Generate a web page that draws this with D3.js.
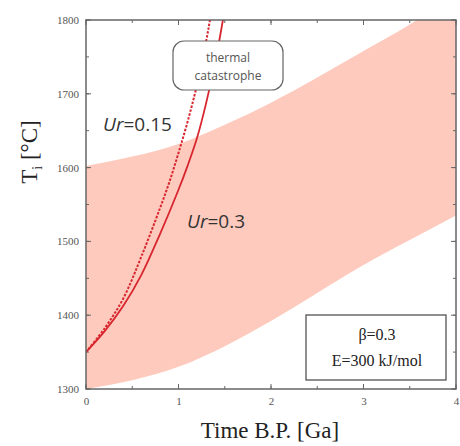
<!DOCTYPE html>
<html>
<head>
<meta charset="utf-8">
<script src="https://cdn.jsdelivr.net/npm/d3@7"></script>
<style>
  body { margin: 0; background: #fff; }
  svg { display: block; }
</style>
</head>
<body>
<script>
// band of allowed mantle temperatures
const bandTime = [0, 0.5, 1, 1.5, 2, 2.5, 3, 3.5, 4];
const bandLow  = [1300, 1312, 1330, 1358, 1392, 1430, 1468, 1502, 1535];
const bandHigh = [1602, 1615, 1632, 1658, 1688, 1722, 1758, 1794, 1835];

// Ur = 0.3 (solid)
const ur30Time = [0, 0.2, 0.4, 0.6, 0.8, 1.0, 1.1, 1.2, 1.3, 1.4, 1.48, 1.55];
const ur30Temp = [1350, 1378, 1412, 1455, 1510, 1570, 1603, 1640, 1688, 1745, 1800, 1855];

// Ur = 0.15 (dashed)
const ur15Time = [0, 0.2, 0.4, 0.6, 0.8, 0.9, 1.0, 1.1, 1.2, 1.3, 1.34, 1.4];
const ur15Temp = [1350, 1382, 1422, 1480, 1545, 1580, 1620, 1663, 1712, 1772, 1800, 1845];

const xTicks = [0, 1, 2, 3, 4];
const yTicks = [1300, 1400, 1500, 1600, 1700, 1800];

const margin = {top: 20, right: 4, bottom: 57, left: 86},
    W = 460, H = 446,
    width = W - margin.left - margin.right,
    height = H - margin.top - margin.bottom;

const svg = d3.select("body").append("svg")
    .attr("width", W)
    .attr("height", H);

const g = svg.append("g")
    .attr("transform", "translate(" + margin.left + "," + margin.top + ")");

const x = d3.scaleLinear().domain([0, 4]).range([0, width]);
const y = d3.scaleLinear().domain([1300, 1800]).range([height, 0]);

g.append("clipPath").attr("id", "plot")
  .append("rect").attr("width", width).attr("height", height);

const plot = g.append("g").attr("clip-path", "url(#plot)");

// band
const band = bandTime.map((t, i) => ({t: t, lo: bandLow[i], hi: bandHigh[i]}));
plot.append("path")
    .datum(band)
    .attr("fill", "#fecabd")
    .attr("d", d3.area()
      .x(d => x(d.t))
      .y0(d => y(d.lo))
      .y1(d => y(d.hi))
      .curve(d3.curveNatural));

const line = d3.line()
    .x(d => x(d.t))
    .y(d => y(d.v))
    .curve(d3.curveCatmullRom);

plot.append("path")
    .datum(ur15Time.map((t, i) => ({t: t, v: ur15Temp[i]})))
    .attr("fill", "none")
    .attr("stroke", "#d8262f")
    .attr("stroke-width", 2)
    .attr("stroke-dasharray", "2.5,1.5")
    .attr("d", line);

plot.append("path")
    .datum(ur30Time.map((t, i) => ({t: t, v: ur30Temp[i]})))
    .attr("fill", "none")
    .attr("stroke", "#d8262f")
    .attr("stroke-width", 1.8)
    .attr("d", line);

// axes: ticks pointing inward on all four sides
const tickCol = "#666";
const xMinor = d3.range(0, 4.01, 0.5);
const yMinor = d3.range(1300, 1801, 50);

function ticks(sel, vals, len, side) {
  vals.forEach(v => {
    let a;
    if (side === "bottom") a = [x(v), height, x(v), height - len];
    if (side === "top") a = [x(v), 0, x(v), len];
    if (side === "left") a = [0, y(v), len, y(v)];
    if (side === "right") a = [width, y(v), width - len, y(v)];
    sel.append("line")
      .attr("x1", a[0]).attr("y1", a[1]).attr("x2", a[2]).attr("y2", a[3])
      .attr("stroke", tickCol).attr("stroke-width", 1);
  });
}
const tg = g.append("g");
["bottom", "top"].forEach(s => { ticks(tg, xMinor, 3, s); ticks(tg, xTicks, 5, s); });
["left", "right"].forEach(s => { ticks(tg, yMinor, 3, s); ticks(tg, yTicks, 5, s); });

g.append("rect")
    .attr("width", width).attr("height", height)
    .attr("fill", "none")
    .attr("stroke", "#666")
    .attr("stroke-width", 1.5);

// tick labels via axis generators, lines hidden
const xAxis = g.append("g")
    .attr("transform", "translate(0," + height + ")")
    .call(d3.axisBottom(x).tickValues(xTicks).tickFormat(d3.format("d")).tickSize(0).tickPadding(8));
const yAxis = g.append("g")
    .call(d3.axisLeft(y).tickValues(yTicks).tickFormat(d3.format("d")).tickSize(0).tickPadding(7));
[xAxis, yAxis].forEach(a => {
  a.select(".domain").remove();
  a.selectAll("text")
    .attr("font-family", "Liberation Serif, serif")
    .attr("font-size", 11)
    .attr("fill", "#555");
});

// axis titles
svg.append("text")
    .attr("x", 270).attr("y", 438)
    .attr("text-anchor", "middle")
    .attr("font-family", "Liberation Serif, serif")
    .attr("font-size", 23)
    .attr("fill", "#222")
    .text("Time B.P. [Ga]");

const yt = svg.append("text")
    .attr("transform", "translate(37,152) rotate(-90)")
    .attr("text-anchor", "middle")
    .attr("font-family", "Liberation Serif, serif")
    .attr("font-size", 23)
    .attr("fill", "#222");
yt.append("tspan").text("T");
yt.append("tspan").attr("font-size", 14).attr("dy", 5).text("i");
yt.append("tspan").attr("dy", -5).text(" [°C]");

// curve labels
function urLabel(px, py, val) {
  const t = svg.append("text")
      .attr("x", px).attr("y", py)
      .attr("font-family", "Open Sans, sans-serif")
      .attr("font-size", 19)
      .attr("fill", "#333");
  t.append("tspan").attr("font-style", "italic").text("Ur");
  t.append("tspan").text("=" + val);
}
urLabel(103, 131, "0.15");
urLabel(187, 228, "0.3");

// thermal catastrophe box
svg.append("rect")
    .attr("x", 173).attr("y", 41).attr("width", 110).attr("height", 49)
    .attr("rx", 11).attr("ry", 11)
    .attr("fill", "#fff").attr("stroke", "#666").attr("stroke-width", 1.2);
[["thermal", 62], ["catastrophe", 80]].forEach(d => {
  svg.append("text")
    .attr("x", 228).attr("y", d[1])
    .attr("text-anchor", "middle")
    .attr("font-family", "Open Sans, sans-serif")
    .attr("font-size", 12)
    .attr("fill", "#555")
    .text(d[0]);
});

// parameter box
svg.append("rect")
    .attr("x", 306).attr("y", 315).attr("width", 140).attr("height", 65)
    .attr("fill", "#fff").attr("stroke", "#444").attr("stroke-width", 1.2);
[["β=0.3", 340], ["E=300 kJ/mol", 366]].forEach(d => {
  svg.append("text")
    .attr("x", 377).attr("y", d[1])
    .attr("text-anchor", "middle")
    .attr("font-family", "Liberation Serif, serif")
    .attr("font-size", 16)
    .attr("fill", "#222")
    .text(d[0]);
});
</script>
</body>
</html>
